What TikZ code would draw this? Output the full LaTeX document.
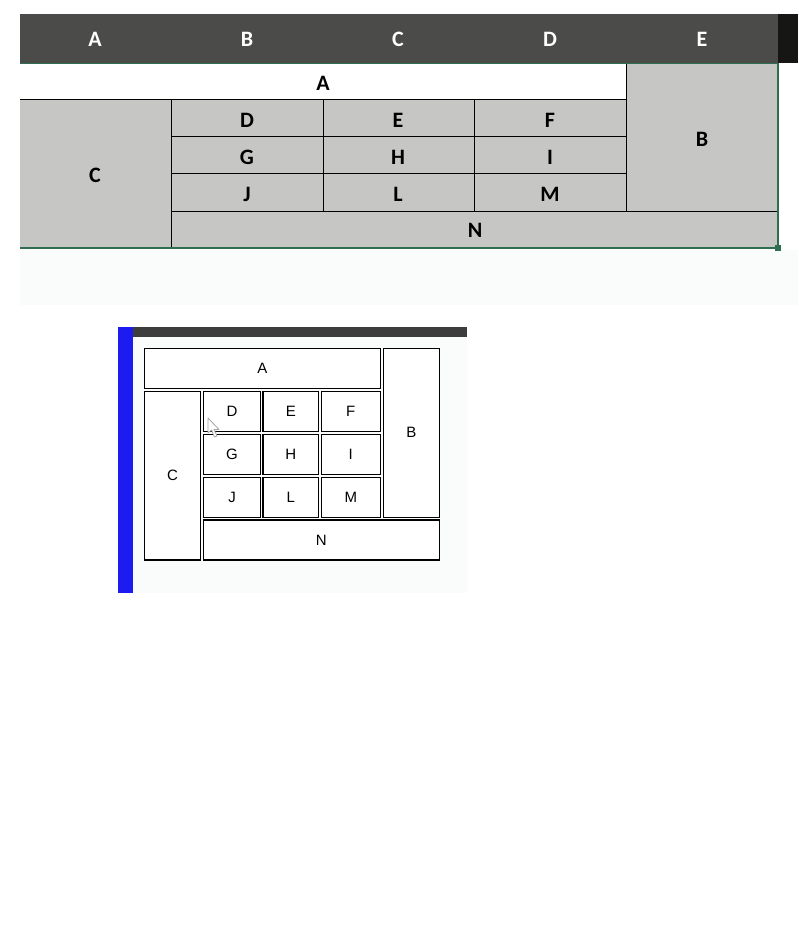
\documentclass[tikz,border=0pt]{standalone}
\usepackage{fontspec}
\newfontfamily\calib{Carlito}
\newfontfamily\arialf{Liberation Sans}
\definecolor{hdr}{HTML}{4B4C4A}
\definecolor{hdrdark}{HTML}{161715}
\definecolor{cellgray}{HTML}{C6C7C5}
\definecolor{selgreen}{HTML}{2F6E50}
\definecolor{panelbg}{HTML}{FAFCFB}
\definecolor{faint}{HTML}{F9FCFA}
\definecolor{barblue}{HTML}{1C1CF0}
\definecolor{topbar}{HTML}{3C3D3C}
\begin{document}
\begin{tikzpicture}[x=1pt,y=-1pt,
  hdrtxt/.style={text=white,font=\calib\bfseries\fontsize{22}{22}\selectfont,inner sep=0pt},
  celltxt/.style={text=black,font=\calib\bfseries\fontsize{22}{22}\selectfont,inner sep=0pt},
  tline/.style={black,line width=1pt},
  pbox/.style={draw=black,line width=1.3pt,fill=white,inner sep=0pt,
    font=\arialf\fontsize{15}{15}\selectfont},
]
\useasboundingbox (0,0) rectangle (798,952);
\fill[white] (0,0) rectangle (798,952);
% ---------- spreadsheet ----------
\fill[hdr] (20,14) rectangle (778,63);
\fill[hdrdark] (778,14) rectangle (798,63);
\fill[faint] (20,250) rectangle (798,305);
\fill[cellgray] (20,100) rectangle (171,248);
\fill[cellgray] (171,100) rectangle (778,248);
\fill[cellgray] (626,64) rectangle (778,211);
\fill[white] (20,64) rectangle (626,100);
% interior lines
\draw[tline] (20,100) -- (626,100);
\draw[tline] (171,100) -- (171,248);
\draw[tline] (626,64) -- (626,211);
\draw[tline] (171,137) -- (626,137);
\draw[tline] (171,174) -- (626,174);
\draw[tline] (171,211) -- (778,211);
\draw[tline] (323,100) -- (323,211);
\draw[tline] (474,100) -- (474,211);
% selection border
\draw[selgreen,line width=1.6pt] (20,63.5) -- (778,63.5) -- (778,248) -- (20,248);
\fill[selgreen] (775,245) rectangle (781,251);
% header letters
\node[hdrtxt] (hA) at (95,39.5) {A};
\node[hdrtxt] (hB) at (247,39.5) {B};
\node[hdrtxt] (hC) at (398,39.5) {C};
\node[hdrtxt] (hD) at (550,39.5) {D};
\node[hdrtxt] (hE) at (702,39.5) {E};
% cell letters
\node[celltxt] (tA) at (323,83) {A};
\node[celltxt] (tB) at (702,139) {B};
\node[celltxt] (tC) at (95,175.5) {C};
\node[celltxt] (tD) at (247,120.5) {D};
\node[celltxt] (tE) at (398,120.5) {E};
\node[celltxt] (tF) at (550,120.5) {F};
\node[celltxt] (tG) at (247,157.5) {G};
\node[celltxt] (tH) at (398,157.5) {H};
\node[celltxt] (tI) at (550,157.5) {I};
\node[celltxt] (tJ) at (247,194.5) {J};
\node[celltxt] (tL) at (398,194.5) {L};
\node[celltxt] (tM) at (550,194.5) {M};
\node[celltxt] (tN) at (475,230.5) {N};
% ---------- lower panel ----------
\fill[panelbg] (133,337) rectangle (467,593);
\fill[topbar] (133,327) rectangle (467,337);
\fill[barblue] (118,327) rectangle (133,593);
\node[pbox,minimum width=236pt,minimum height=40pt] (pA) at (262.3,368.3) {A};
\node[pbox,minimum width=56pt,minimum height=169pt] (pB) at (411.3,432.8) {B};
\node[pbox,minimum width=56.4pt,minimum height=168.7pt] (pC) at (172.5,475.6) {C};
\node[pbox,minimum width=57.4pt,minimum height=40pt] (pD) at (232,411.3) {D};
\node[pbox,minimum width=55.7pt,minimum height=40pt] (pE) at (290.8,411.3) {E};
\node[pbox,minimum width=59pt,minimum height=40pt] (pF) at (350.8,411.3) {F};
\node[pbox,minimum width=57.4pt,minimum height=40pt] (pG) at (232,454.3) {G};
\node[pbox,minimum width=55.7pt,minimum height=40pt] (pH) at (290.8,454.3) {H};
\node[pbox,minimum width=59pt,minimum height=40pt] (pI) at (350.8,454.3) {I};
\node[pbox,minimum width=57.4pt,minimum height=40pt] (pJ) at (232,497.3) {J};
\node[pbox,minimum width=55.7pt,minimum height=40pt] (pL) at (290.8,497.3) {L};
\node[pbox,minimum width=59pt,minimum height=40pt] (pM) at (350.8,497.3) {M};
\node[pbox,minimum width=236pt,minimum height=40pt] (pN) at (321.3,540) {N};
% mouse cursor
\draw[gray!70,fill=white,line width=0.8pt,line join=round]
  (208,418) -- (208,433) -- (211.5,430) -- (214.5,437) -- (217,436) -- (214,429.5) -- (219,429.5) -- cycle;
\end{tikzpicture}
\end{document}
